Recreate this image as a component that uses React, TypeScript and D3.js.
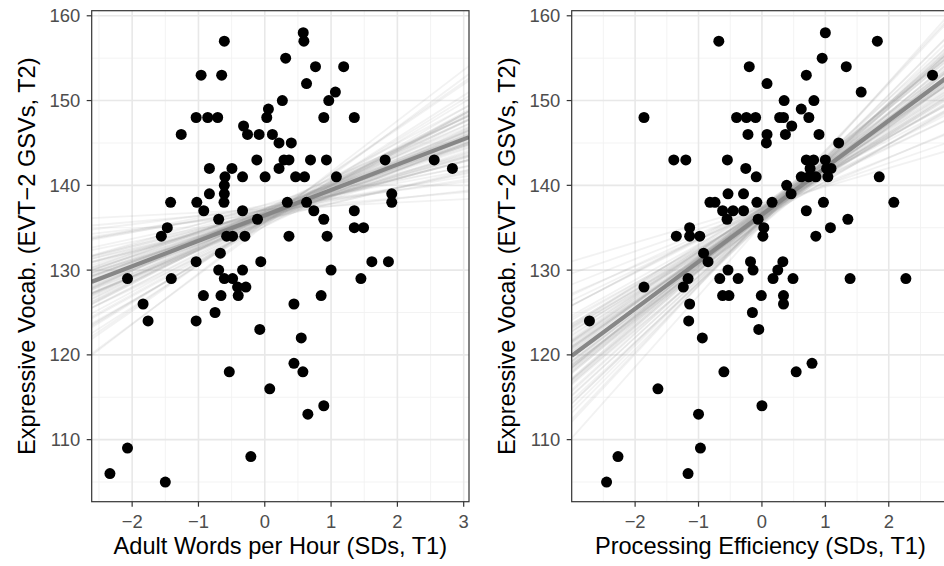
import React from "react";
import * as d3 from "d3";

// ---- Data ----
const yTicks = [110, 120, 130, 140, 150, 160];
const yMinor = [105, 115, 125, 135, 145, 155];
const leftXTicks = [-2, -1, 0, 1, 2, 3];
const leftXMinor = [-2.5, -1.5, -0.5, 0.5, 1.5, 2.5];
const rightXTicks = [-2, -1, 0, 1, 2];
const rightXMinor = [-2.5, -1.5, -0.5, 0.5, 1.5, 2.5];

const yLabel = "Expressive Vocab. (EVT\u22122 GSVs, T2)";
const leftXLabel = "Adult Words per Hour (SDs, T1)";
const rightXLabel = "Processing Efficiency (SDs, T1)";

// Adult words per hour (x) vs vocab (y)
const awhX = [-0.61,0.58,0.59,0.315,0.765,1.19,-0.96,-0.65,0.63,1.065,0.965,0.265,-1.035,-0.86,-0.71,0.89,1.35,0.055,0.03,-1.26,-0.32,-0.26,-0.085,0.115,0.215,0.4,-0.12,0.29,0.365,0.69,0.93,1.815,2.555,2.83,-0.835,-0.495,0.215,-0.6,-0.335,0.005,0.465,0.6,1.08,-0.61,-0.61,-0.615,-0.835,1.915,1.915,-1.42,-1.025,-0.92,0.34,0.63,0.74,-0.335,1.35,-0.695,-0.11,0.89,-1.47,-1.56,1.35,1.49,-0.575,-0.485,-0.3,0.365,0.94,-0.67,-1.035,-0.06,1.615,1.865,-2.07,-1.41,-0.695,-0.335,1.0,1.45,-0.61,-0.485,-0.41,-0.285,-0.4,-0.925,-0.66,0.85,-1.835,0.44,-0.75,-1.76,-1.035,-0.075,0.55,-0.535,0.44,0.575,0.075,0.89,0.65,-2.07,-0.21,-2.335,-1.5];
const awhY = [157,158,157,155,154,154,153,153,152,151,150,150,148,148,148,148,148,149,148,146,147,146,146,146,145,145,143,143,143,143,143,143,143,142,142,142,142,141,141,141,141,141,141,140,139,138,139,139,138,138,138,137,138,138,137,137,137,136,136,136,135,134,135,135,134,134,134,134,134,132,131,131,131,131,129,129,130,130,130,129,129,129,128,128,127,127,127,127,126,126,125,124,124,123,122,118,119,118,116,114,113,109,108,106,105];

// Processing efficiency (x) vs vocab (y)
const peX = [-0.68,1.0,1.82,0.95,-0.2,1.33,0.7,2.69,0.08,1.565,0.35,0.82,-1.86,-0.4,-0.245,-0.1,0.28,0.34,0.62,0.74,0.47,-0.22,0.08,0.37,0.9,0.07,1.21,-1.39,-1.2,-0.545,0.7,0.815,1.0,-0.255,0.76,1.02,1.09,-0.09,1.85,0.62,0.74,0.85,1.04,0.39,0.46,-0.535,-0.29,-0.82,-0.74,-0.08,0.16,0.97,2.08,-0.62,-0.455,-0.29,0.7,-0.55,-0.06,1.355,0.03,1.08,-1.35,-1.14,-0.98,-1.14,0.015,0.85,-0.92,-0.85,-0.18,0.33,-0.535,-0.14,0.25,-1.165,-0.665,-0.375,0.175,0.49,1.39,2.27,-1.86,-1.24,-0.62,-0.52,-0.01,0.34,0.34,-1.14,-2.72,-1.155,-0.15,-0.05,-0.94,-0.6,0.54,0.79,-1.64,0.0,-1.0,-0.97,-2.27,-1.165,-2.45];
const peY = [157,158,157,155,154,154,153,153,152,151,150,150,148,148,148,148,148,148,149,148,147,146,146,146,146,145,145,143,143,143,143,143,143,142,142,142,142,141,141,141,141,141,141,140,139,139,139,138,138,138,138,138,138,137,137,137,137,136,136,136,135,135,134,134,134,135,134,134,132,131,131,131,130,130,130,129,129,129,129,129,129,129,128,128,127,127,127,127,126,126,124,124,125,123,122,118,118,119,116,114,113,109,108,106,105];

// Fitted (mean) lines: value at x = 0.3 and slope
const leftFitLevel = 137.35;
const leftFitSlope = 3.0;
const rightFitLevel = 138.2;
const rightFitSlope = 5.55;

// Posterior draws: slope and value at x = 0.3
const leftDrawSlope = [3.0,2.1,3.9,2.6,3.4,1.5,4.4,2.8,3.2,2.3,3.7,1.0,5.0,2.9,3.1,2.5,3.5,1.8,4.1,2.7,3.3,2.0,4.0,0.4,5.8,2.4,3.6,1.3,4.7,2.95,3.05,2.2,3.8,1.6,4.3,2.65,3.45,0.9,5.3,2.75,3.25,1.9,4.2,2.55,3.55,3.15,2.85,6.0,
  2.9,3.1,2.6,3.4,2.2,3.8,2.75,3.25,1.7,4.3,3.0,2.45,3.55,2.05,3.95,2.8,3.2,1.2,4.8,2.6,3.4,2.35,3.65,2.95,3.05,1.45,4.55,2.7,3.3,0.7,5.4,2.5,3.5,3.0,2.15,3.85,2.85,3.15,2.0,4.0];
const leftDrawLevel = [137.3,137.8,136.9,137.6,137.0,138.1,136.5,137.4,137.2,138.4,136.3,137.7,137.1,136.8,137.9,137.0,137.5,136.6,138.0,137.2,136.9,137.4,137.6,137.3,137.0,136.7,138.2,137.5,137.1,137.8,136.6,137.3,137.7,137.0,136.8,138.0,137.2,136.9,137.6,137.4,137.9,136.5,137.1,137.3,138.3,136.4,137.5,137.4,
  137.5,137.1,137.9,136.8,137.4,137.3,138.0,136.7,137.6,137.0,137.2,137.7,136.9,137.3,137.5,138.1,136.6,137.4,137.2,136.9,137.8,137.0,137.6,137.4,137.1,137.8,136.8,137.5,137.2,137.3,137.6,136.9,138.0,137.3,137.1,137.5,137.0,137.7,137.4,137.2];
const rightDrawSlope = [5.5,4.6,6.4,5.1,5.9,4.0,6.9,5.3,5.7,4.8,6.2,3.5,7.5,5.4,5.6,5.0,6.0,4.3,6.6,5.2,5.8,4.5,6.5,2.6,8.4,4.9,6.1,3.8,7.2,5.45,5.65,4.7,6.3,4.1,6.8,5.15,5.95,3.2,7.9,5.25,5.75,4.4,6.7,5.05,6.05,5.6,5.35,2.2,
  5.4,5.7,5.0,6.0,4.6,6.4,5.2,5.9,4.2,6.9,5.55,4.8,6.3,4.4,6.6,5.3,5.8,3.6,7.4,5.1,6.1,4.7,6.2,5.45,5.65,3.9,7.1,5.25,5.85,3.0,8.0,4.9,6.2,5.5,4.5,6.5,5.35,5.75,4.3,6.8];
const rightDrawLevel = [138.2,138.8,137.6,138.5,137.9,139.0,137.4,138.3,138.0,139.2,137.2,138.6,137.9,137.7,138.9,137.8,138.4,137.5,139.0,138.1,137.8,138.3,138.6,138.2,137.9,137.6,139.1,138.4,138.0,138.7,137.5,138.2,138.6,137.9,137.7,138.9,138.1,137.8,138.5,138.3,138.8,137.4,138.0,138.2,139.2,137.3,138.4,138.3,
  138.4,138.0,138.7,137.7,138.3,138.2,138.9,137.6,138.5,137.9,138.1,138.6,137.8,138.2,138.4,139.0,137.5,138.3,138.1,137.8,138.7,137.9,138.5,138.3,138.0,138.7,137.7,138.4,138.1,138.2,138.5,137.8,138.9,138.2,138.0,138.4,137.9,138.6,138.3,138.1];

const PIVOT = 0.3;

type PanelProps = {
  id: string;
  x0: number;
  x1: number;
  xDomain: [number, number];
  xTicks: number[];
  xMinor: number[];
  xs: number[];
  ys: number[];
  drawSlope: number[];
  drawLevel: number[];
  fitSlope: number;
  fitLevel: number;
  xLabel: string;
  yLabelX: number;
};

const Y0 = 10.7;
const Y1 = 501.7;
const yScale = d3.scaleLinear().domain([102.68, 160.6]).range([Y1, Y0]);
const FONT = "'Liberation Sans', Arial, Helvetica, sans-serif";
const TICK_FS = 18.4;
const TITLE_FS = 23.6;

function Panel(p: PanelProps) {
  const x = d3.scaleLinear().domain(p.xDomain).range([p.x0, p.x1]);
  const [dx0, dx1] = p.xDomain;
  const seg = (slope: number, level: number) =>
    d3.line()([
      [x(dx0), yScale(level + slope * (dx0 - PIVOT))],
      [x(dx1), yScale(level + slope * (dx1 - PIVOT))],
    ]) as string;
  const clipId = `clip-${p.id}`;
  const w = p.x1 - p.x0;
  const h = Y1 - Y0;
  return (
    <g>
      <defs>
        <clipPath id={clipId}>
          <rect x={p.x0} y={Y0} width={w} height={h} />
        </clipPath>
      </defs>
      <rect x={p.x0} y={Y0} width={w} height={h} fill="#ffffff" />
      {p.xMinor.map((v) => (
        <line key={`xm${v}`} x1={x(v)} x2={x(v)} y1={Y0} y2={Y1} stroke="#f2f2f2" strokeWidth={0.9} />
      ))}
      {yMinor.map((v) => (
        <line key={`ym${v}`} x1={p.x0} x2={p.x1} y1={yScale(v)} y2={yScale(v)} stroke="#f2f2f2" strokeWidth={0.9} />
      ))}
      {p.xTicks.map((v) => (
        <line key={`xg${v}`} x1={x(v)} x2={x(v)} y1={Y0} y2={Y1} stroke="#e8e8e8" strokeWidth={1.6} />
      ))}
      {yTicks.map((v) => (
        <line key={`yg${v}`} x1={p.x0} x2={p.x1} y1={yScale(v)} y2={yScale(v)} stroke="#e8e8e8" strokeWidth={1.6} />
      ))}
      <g clipPath={`url(#${clipId})`}>
        {p.drawSlope.map((s, i) => (
          <path key={`d${i}`} d={seg(s, p.drawLevel[i])} stroke="#999999" strokeOpacity={0.13} strokeWidth={1.8} fill="none" />
        ))}
        <path d={seg(p.fitSlope, p.fitLevel)} stroke="#878787" strokeWidth={4.2} fill="none" />
        {p.xs.map((v, i) => (
          <circle key={`p${i}`} cx={x(v)} cy={yScale(p.ys[i])} r={5.5} fill="#000000" />
        ))}
      </g>
      <rect x={p.x0} y={Y0} width={w} height={h} fill="none" stroke="#333333" strokeWidth={1.2} />
      {yTicks.map((v) => (
        <g key={`yt${v}`}>
          <line x1={p.x0 - 5} x2={p.x0} y1={yScale(v)} y2={yScale(v)} stroke="#333333" strokeWidth={1.2} />
          <text
            x={p.x0 - 11.5}
            y={yScale(v)}
            dy="0.36em"
            textAnchor="end"
            fontSize={TICK_FS}
            fill="#4d4d4d"
            fontFamily={FONT}
          >
            {v}
          </text>
        </g>
      ))}
      {p.xTicks.map((v) => (
        <g key={`xt${v}`}>
          <line x1={x(v)} x2={x(v)} y1={Y1} y2={Y1 + 5} stroke="#333333" strokeWidth={1.2} />
          <text
            x={x(v)}
            y={528}
            textAnchor="middle"
            fontSize={TICK_FS}
            fill="#4d4d4d"
            fontFamily={FONT}
          >
            {v < 0 ? `\u2212${Math.abs(v)}` : `${v}`}
          </text>
        </g>
      ))}
      <text
        x={(p.x0 + p.x1) / 2}
        y={553.5}
        textAnchor="middle"
        fontSize={TITLE_FS}
        fill="#000000"
        fontFamily={FONT}
      >
        {p.xLabel}
      </text>
      <text
        transform={`translate(${p.yLabelX},${(Y0 + Y1) / 2}) rotate(-90)`}
        textAnchor="middle"
        fontSize={TITLE_FS}
        fill="#000000"
        fontFamily={FONT}
      >
        {yLabel}
      </text>
    </g>
  );
}

export default function App() {
  return (
    <svg
      width={944}
      height={566}
      style={{ position: "absolute", left: 0, top: 0, background: "#ffffff" }}
    >
      <rect x={0} y={0} width={944} height={566} fill="#ffffff" />
      <Panel
        id="left"
        x0={91.7}
        x1={469}
        xDomain={[-2.61, 3.08]}
        xTicks={leftXTicks}
        xMinor={leftXMinor}
        xs={awhX}
        ys={awhY}
        drawSlope={leftDrawSlope}
        drawLevel={leftDrawLevel}
        fitSlope={leftFitSlope}
        fitLevel={leftFitLevel}
        xLabel={leftXLabel}
        yLabelX={35}
      />
      <Panel
        id="right"
        x0={571.7}
        x1={949}
        xDomain={[-3.0, 2.95]}
        xTicks={rightXTicks}
        xMinor={rightXMinor}
        xs={peX}
        ys={peY}
        drawSlope={rightDrawSlope}
        drawLevel={rightDrawLevel}
        fitSlope={rightFitSlope}
        fitLevel={rightFitLevel}
        xLabel={rightXLabel}
        yLabelX={515}
      />
    </svg>
  );
}
